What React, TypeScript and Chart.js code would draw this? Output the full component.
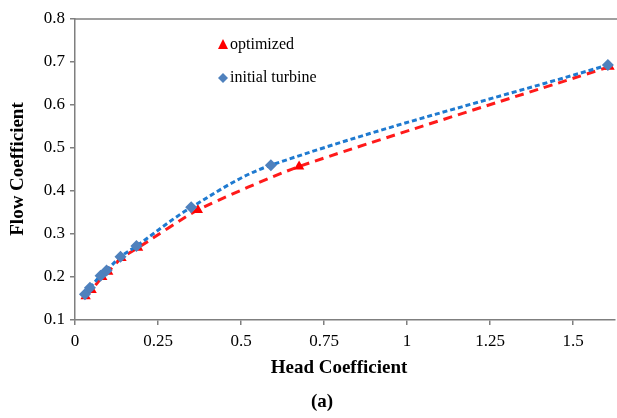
import React, { useEffect, useRef } from "react";
import { Chart, registerables } from "chart.js";

Chart.register(...registerables);

const initialX = [0.03, 0.045, 0.077, 0.095, 0.137, 0.185, 0.35, 0.59, 1.605];
const initialY = [0.16, 0.175, 0.203, 0.215, 0.247, 0.272, 0.362, 0.46, 0.693];
const optimizedX = [0.032, 0.05, 0.082, 0.1, 0.14, 0.19, 0.37, 0.675, 1.61];
const optimizedY = [0.155, 0.17, 0.2, 0.212, 0.244, 0.268, 0.356, 0.457, 0.689];
const xTicks = [0, 0.25, 0.5, 0.75, 1, 1.25, 1.5];
const yTicks = [0.1, 0.2, 0.3, 0.4, 0.5, 0.6, 0.7, 0.8];
const xTitle = "Head Coefficient";
const yTitle = "Flow Coefficient";
const caption = "(a)";
const legendLabels = ["optimized", "initial turbine"];

const SERIF = "'Liberation Serif', 'DejaVu Serif', serif";

const overlayPlugin = {
  id: "overlay",
  afterDraw(chart: any) {
    const { ctx, chartArea } = chart;
    ctx.save();
    ctx.strokeStyle = "#7f7f7f";
    ctx.lineWidth = 1.5;
    ctx.beginPath();
    ctx.moveTo(chartArea.left, chartArea.top);
    ctx.lineTo(chartArea.right + 5, chartArea.top);
    ctx.stroke();

    ctx.fillStyle = "#000";
    ctx.font = `bold 19px ${SERIF}`;
    ctx.textAlign = "center";
    ctx.textBaseline = "middle";
    ctx.fillText(xTitle, 339, 368);
    ctx.fillText(caption, 322, 402);
    ctx.save();
    ctx.translate(18, 169);
    ctx.rotate(-Math.PI / 2);
    ctx.fillText(yTitle, 0, 0);
    ctx.restore();

    ctx.font = `16px ${SERIF}`;
    ctx.textAlign = "left";
    ctx.fillStyle = "#ff0000";
    ctx.beginPath();
    ctx.moveTo(223, 39);
    ctx.lineTo(228, 49);
    ctx.lineTo(218, 49);
    ctx.closePath();
    ctx.fill();
    ctx.fillStyle = "#000";
    ctx.fillText(legendLabels[0], 230, 45);
    ctx.fillStyle = "#4f81bd";
    ctx.beginPath();
    ctx.moveTo(223, 73);
    ctx.lineTo(228, 78);
    ctx.lineTo(223, 83);
    ctx.lineTo(218, 78);
    ctx.closePath();
    ctx.fill();
    ctx.fillStyle = "#000";
    ctx.fillText(legendLabels[1], 230, 78);
    ctx.restore();
  },
};

export default function App() {
  const ref = useRef<HTMLCanvasElement>(null);
  useEffect(() => {
    document.body.style.margin = "0";
    const chart = new Chart(ref.current as HTMLCanvasElement, {
      type: "scatter",
      data: {
        datasets: [
          {
            label: legendLabels[1],
            data: initialX.map((x, i) => ({ x, y: initialY[i] })),
            showLine: true,
            borderColor: "#1f7ad0",
            borderWidth: 3,
            borderDash: [5, 3],
            tension: 0.35,
            pointStyle: "rectRot",
            pointRadius: 6,
            pointBackgroundColor: "#4f81bd",
            pointBorderColor: "#4f81bd",
            pointBorderWidth: 0,
            clip: false,
          },
          {
            label: legendLabels[0],
            data: optimizedX.map((x, i) => ({ x, y: optimizedY[i] })),
            showLine: true,
            borderColor: "#ff1a1a",
            borderWidth: 3,
            borderDash: [9, 6],
            tension: 0.2,
            pointStyle: "triangle",
            pointRadius: 6,
            pointBackgroundColor: "#ff0000",
            pointBorderColor: "#ff0000",
            pointBorderWidth: 0,
            clip: false,
          },
        ],
      },
      options: {
        animation: false,
        responsive: false,
        layout: { autoPadding: false, padding: { top: 19, right: 2, left: 0, bottom: 0 } },
        plugins: { legend: { display: false }, tooltip: { enabled: false } },
        scales: {
          x: {
            type: "linear",
            min: 0,
            max: 540 / 332,
            afterBuildTicks: (s: any) => {
              s.ticks = xTicks.map((v) => ({ value: v }));
            },
            afterFit: (s: any) => {
              s.height = 98;
            },
            ticks: {
              color: "#000",
              font: { family: SERIF, size: 17 },
              padding: 6,
              maxRotation: 0,
              callback: (v: any) => String(v),
            },
            grid: {
              drawOnChartArea: false,
              drawTicks: true,
              tickLength: 5,
              color: "#7f7f7f",
              lineWidth: 1.5,
            },
            border: { display: true, color: "#7f7f7f", width: 1.5 },
          },
          y: {
            type: "linear",
            min: 0.1,
            max: 0.8,
            afterBuildTicks: (s: any) => {
              s.ticks = yTicks.map((v) => ({ value: v }));
            },
            afterFit: (s: any) => {
              s.width = 75;
            },
            ticks: {
              color: "#000",
              font: { family: SERIF, size: 17 },
              padding: 5,
              callback: (v: any) => Number(v).toFixed(1),
            },
            grid: {
              drawOnChartArea: false,
              drawTicks: true,
              tickLength: 5,
              color: "#7f7f7f",
              lineWidth: 1.5,
            },
            border: { display: true, color: "#7f7f7f", width: 1.5 },
          },
        },
      },
      plugins: [overlayPlugin],
    } as any);
    return () => chart.destroy();
  }, []);
  return (
    <div style={{ position: "absolute", left: 0, top: 0, width: 617, height: 418, background: "#fff" }}>
      <canvas ref={ref} width={617} height={418} style={{ width: 617, height: 418 }} />
    </div>
  );
}
